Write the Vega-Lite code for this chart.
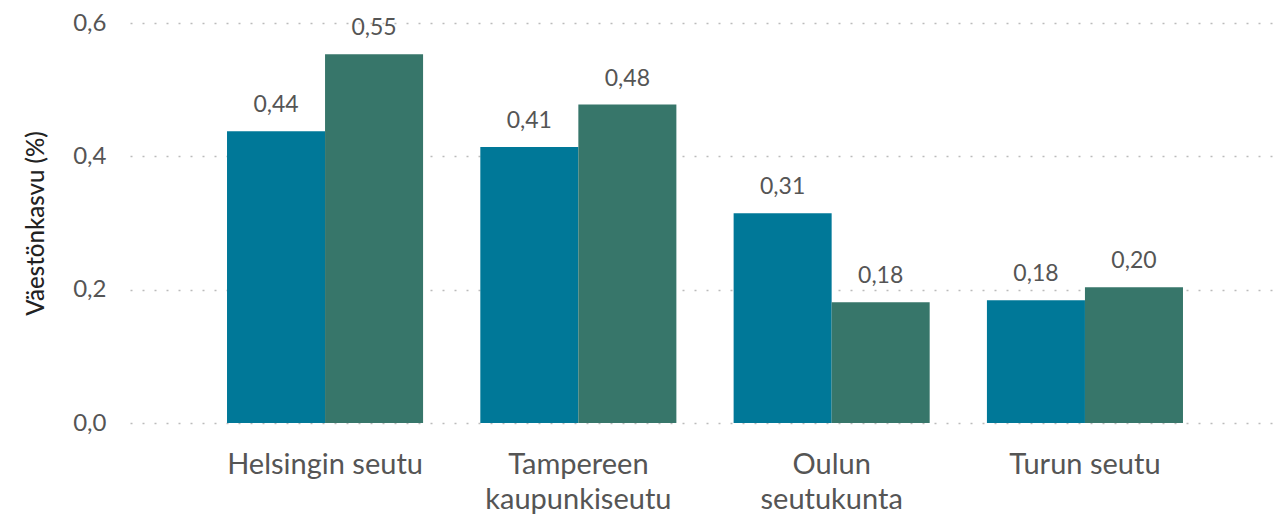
{
  "$schema": "https://vega.github.io/schema/vega-lite/v6.json",
  "width": 1150,
  "height": 400,
  "autosize": {"type": "none"},
  "padding": {"left": 130, "top": 23, "right": 0, "bottom": 95},
  "background": "white",
  "config": {
    "locale": {"number": {"decimal": ",", "thousands": "\u00a0", "grouping": [3], "currency": ["", " €"]}},
    "view": {"stroke": null},
    "font": "Lato"
  },
  "data": {
    "values": [
      {"alue": "Helsingin seutu", "jakso": "Jakso 1", "arvo": 0.4375},
      {"alue": "Helsingin seutu", "jakso": "Jakso 2", "arvo": 0.553},
      {"alue": "Tampereen kaupunkiseutu", "jakso": "Jakso 1", "arvo": 0.414},
      {"alue": "Tampereen kaupunkiseutu", "jakso": "Jakso 2", "arvo": 0.4776},
      {"alue": "Oulun seutukunta", "jakso": "Jakso 1", "arvo": 0.3146},
      {"alue": "Oulun seutukunta", "jakso": "Jakso 2", "arvo": 0.181},
      {"alue": "Turun seutu", "jakso": "Jakso 1", "arvo": 0.184},
      {"alue": "Turun seutu", "jakso": "Jakso 2", "arvo": 0.2035}
    ]
  },
  "encoding": {
    "x": {
      "field": "alue", "type": "nominal", "sort": null,
      "scale": {"paddingInner": 0.226, "paddingOuter": 0.383},
      "axis": {
        "title": null, "domain": false, "ticks": false, "grid": false,
        "labelAngle": 0, "labelFontSize": 29, "labelColor": "#555555",
        "labelPadding": 27, "labelLineHeight": 35, "labelFont": "Lato", "labelLimit": 0,
        "labelExpr": "datum.value == 'Tampereen kaupunkiseutu' ? ['Tampereen','kaupunkiseutu'] : datum.value == 'Oulun seutukunta' ? ['Oulun','seutukunta'] : datum.value"
      }
    },
    "xOffset": {"field": "jakso", "type": "nominal"},
    "y": {
      "field": "arvo", "type": "quantitative",
      "scale": {"domain": [0, 0.6], "nice": false},
      "axis": {
        "title": "Väestönkasvu (%)", "titleFontSize": 24, "titleColor": "#222222",
        "titleFontWeight": 500, "titlePadding": 24, "titleFont": "Lato",
        "values": [0, 0.2, 0.4, 0.6], "format": ".1f",
        "domain": false, "ticks": false,
        "labelFontSize": 24, "labelColor": "#555555", "labelPadding": 24,
        "grid": true, "gridColor": "#bbbbbb", "gridDash": [2, 10], "gridWidth": 1.5
      }
    }
  },
  "layer": [
    {
      "mark": {"type": "bar"},
      "encoding": {
        "color": {
          "field": "jakso", "type": "nominal",
          "scale": {"range": ["#007898", "#37766a"]},
          "legend": null
        }
      }
    },
    {
      "mark": {"type": "text", "baseline": "bottom", "dy": -14, "fontSize": 23, "color": "#555555"},
      "encoding": {
        "text": {"field": "arvo", "type": "quantitative", "format": ".2f"}
      }
    }
  ]
}
